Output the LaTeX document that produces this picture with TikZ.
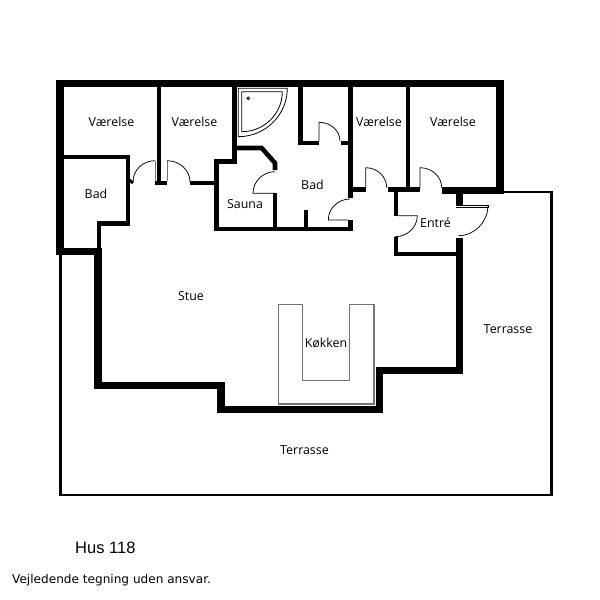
\documentclass[tikz,border=0pt]{standalone}
\usepackage{fontspec}
\setmainfont{Open Sans}
\newfontfamily\husfont{Liberation Sans}
\newfontfamily\notefont{DejaVu Sans}
\tikzset{
  wall/.style={line width=4.6pt,line cap=butt,line join=miter,black},
  heavy/.style={line width=7.4pt,line cap=butt,line join=miter,black},
  terr/.style={line width=2.8pt,line join=miter,black},
  door/.style={line width=0.75pt,black},
  kitchen/.style={line width=1.3pt,black!55,line join=miter},
  room/.style={font=\fontsize{12.4}{14}\selectfont,inner sep=0pt},
}
\begin{document}
\begin{tikzpicture}[x=1pt,y=-1pt]
\useasboundingbox (0,0) rectangle (600,600);
\fill[white] (0,0) rectangle (600,600);
% terrace
\draw[terr] (503,192) -- (551.5,192) -- (551.5,495) -- (60.5,495) -- (60.5,252);
% kitchen
\draw[kitchen] (278.3,404) -- (278.3,304.7) -- (302.7,304.7) -- (302.7,380.7) -- (349.3,380.7) -- (349.3,304.7) -- (374,304.7) -- (374,404) -- cycle;
% outer heavy walls
\draw[heavy] (500,194) -- (500,83.3) -- (60,83.3) -- (60,255);
\draw[heavy] (56,251.5) -- (101.7,251.5);
\draw[heavy] (441.7,190.5) -- (503.7,190.5);
\draw[heavy] (98,248) -- (98,385.3) -- (220.8,385.3) -- (220.8,409.5) -- (379.7,409.5) -- (379.7,370.7) -- (459.7,370.7) -- (459.7,237.7);
\draw[heavy] (459.7,190) -- (459.7,205);
% Bad (left)
\draw[wall] (62,157) -- (128,157) -- (128,223.6) -- (99,223.6) -- (99,250);
\draw[line width=3pt] (128,179) -- (133,183);
% between vaerelser
\draw[wall] (159,83) -- (159,185);
\fill (155,181) rectangle (167,185.3);
\draw[wall] (190,183) -- (216.5,183);
\draw[wall] (216.5,159.3) -- (216.5,231);
\draw[wall] (214.2,161.5) -- (234.7,161.5);
\draw[wall] (234.7,83) -- (234.7,163.8);
% sauna
\draw[wall] (234,148) -- (261.7,148) -- (275,163) -- (275,170);
\draw[wall] (275,193.3) -- (275,229);
\draw[wall] (214.2,229) -- (352.7,229);
\draw[wall] (306,210) -- (306,229);
\fill (348.2,220) rectangle (352.7,231.3);
% Bad right
\draw[wall] (300.3,83) -- (300.3,143) -- (319,143);
\draw[wall] (340.7,143) -- (350,143);
\draw[wall] (350.5,83) -- (350.5,198);
\draw[wall] (350,189.5) -- (365.7,189.5);
\draw[wall] (387.7,189.5) -- (420,189.5);
\draw[wall] (408,83) -- (408,189);
% entre
\draw[wall] (395.8,189.5) -- (395.8,215.7);
\draw[wall] (395.8,237) -- (395.8,254) -- (458,254);
% doors
\draw[door,line width=1pt,black!55] (155,160.7) -- (155,181);
\draw[door,line width=1pt,black!55] (167,160.7) -- (167,181);
\draw[door] (133,181.7) arc[start angle=180,end angle=90,x radius=22,y radius=-21];
\draw[door] (167,160.7) arc[start angle=90,end angle=0,x radius=23,y radius=-21.3];
\draw[door] (275,171.7) arc[start angle=90,end angle=180,x radius=22,y radius=-21.6] -- (275,193.3);
\draw[door] (319,141) -- (319,122.3) arc[start angle=90,end angle=0,x radius=21,y radius=-18.7];
\draw[door] (350,199) arc[start angle=90,end angle=180,x radius=21.7,y radius=-21] -- (348,220);
\draw[door] (365.7,187.5) -- (365.7,167.7) arc[start angle=90,end angle=0,x radius=21,y radius=-20];
\draw[door] (420,187.5) -- (420,167.7) arc[start angle=90,end angle=0,x radius=21.7,y radius=-20];
\draw[door] (398,215.7) -- (417.3,215.7) arc[start angle=0,end angle=-90,x radius=22.3,y radius=-21];
\draw[door] (463,205) -- (488,205) -- (488,207.3) -- (456,207.3);
\draw[door] (488,205) arc[start angle=0,end angle=-90,x radius=29.7,y radius=-30.7];
\draw[door,line width=0.6pt] (456,205) -- (488,205);
% shower
\draw[door,line width=0.8pt] (238.3,88.3) -- (287.3,88.3) arc[start angle=0,end angle=-90,x radius=49,y radius=-48.4] -- cycle;
\draw[door,line width=0.8pt] (241.7,91.7) -- (282.3,91.7) arc[start angle=0,end angle=-90,x radius=40.6,y radius=-40] -- cycle;
\draw[door,line width=0.8pt] (248.3,98.3) circle[radius=1.4];
% labels
\node[room] (v1) at (111.5,121.5) {Værelse};
\node[room] (v2) at (194.5,121.5) {Værelse};
\node[room] (v3) at (379,121.5) {Værelse};
\node[room] (v4) at (453,121.5) {Værelse};
\node[room] (b1) at (96,193.5) {Bad};
\node[room] (s) at (245,204) {Sauna};
\node[room] (b2) at (312.5,184.5) {Bad};
\node[room] (e) at (435.5,223) {Entré};
\node[room] (st) at (191,296) {Stue};
\node[room] (k) at (326,343) {Køkken};
\node[room] (t1) at (508,329) {Terrasse};
\node[room] (t2) at (304.5,450) {Terrasse};
\node[inner sep=0pt,font=\husfont\fontsize{16.5}{18}\selectfont,anchor=west] (h) at (75,547.5) {Hus 118};
\node[inner sep=0pt,font=\notefont\fontsize{12.1}{14}\selectfont,anchor=west] (n) at (12,580) {Vejledende tegning uden ansvar.};
\end{tikzpicture}
\end{document}
